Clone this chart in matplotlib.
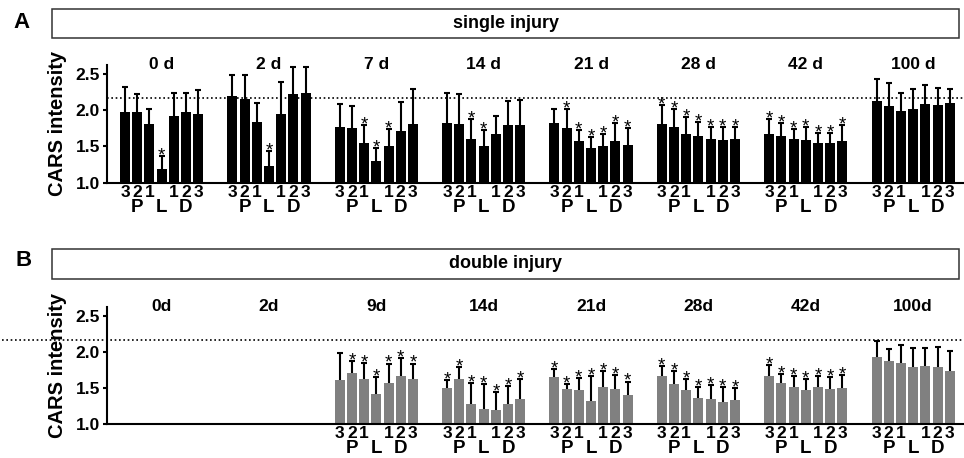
import numpy as np
import matplotlib.pyplot as plt
from matplotlib.patches import Rectangle

plt.rcParams['font.family'] = ['Liberation Sans', 'DejaVu Sans']

# ---- data ----
single_days = ['0 d', '2 d', '7 d', '14 d', '21 d', '28 d', '42 d', '100 d']
double_days = ['0d', '2d', '9d', '14d', '21d', '28d', '42d', '100d']

# bar order in every group: P3 P2 P1 L D1 D2 D3
bar_numbers = ['3', '2', '1', '', '1', '2', '3']
region_names = ['P', 'L', 'D']
region_bars = [1, 3, 5]

single_mean = [
    [1.97, 1.97, 1.80, 1.18, 1.91, 1.97, 1.94],
    [2.19, 2.15, 1.83, 1.23, 1.94, 2.22, 2.23],
    [1.76, 1.75, 1.54, 1.30, 1.51, 1.71, 1.80],
    [1.82, 1.81, 1.60, 1.51, 1.67, 1.79, 1.79],
    [1.82, 1.75, 1.57, 1.48, 1.50, 1.57, 1.52],
    [1.80, 1.77, 1.67, 1.64, 1.60, 1.58, 1.60],
    [1.67, 1.64, 1.60, 1.59, 1.55, 1.54, 1.57],
    [2.12, 2.06, 1.99, 2.02, 2.08, 2.07, 2.09],
]
single_sd = [
    [0.34, 0.25, 0.22, 0.19, 0.33, 0.27, 0.33],
    [0.29, 0.33, 0.27, 0.20, 0.45, 0.37, 0.36],
    [0.32, 0.31, 0.25, 0.18, 0.23, 0.40, 0.49],
    [0.41, 0.41, 0.27, 0.22, 0.24, 0.33, 0.35],
    [0.20, 0.26, 0.15, 0.15, 0.17, 0.25, 0.23],
    [0.27, 0.24, 0.23, 0.20, 0.17, 0.19, 0.17],
    [0.21, 0.18, 0.14, 0.17, 0.13, 0.14, 0.22],
    [0.31, 0.31, 0.25, 0.27, 0.27, 0.23, 0.20],
]
single_sig = [
    [0, 0, 0, 1, 0, 0, 0],
    [0, 0, 0, 1, 0, 0, 0],
    [0, 0, 1, 1, 1, 0, 0],
    [0, 0, 1, 1, 0, 0, 0],
    [0, 1, 1, 1, 1, 1, 1],
    [1, 1, 1, 1, 1, 1, 1],
    [1, 1, 1, 1, 1, 1, 1],
    [0, 0, 0, 0, 0, 0, 0],
]

# no measurements at 0d and 2d after the double injury
double_mean = [
    None,
    None,
    [1.61, 1.71, 1.62, 1.42, 1.57, 1.67, 1.62],
    [1.50, 1.62, 1.28, 1.21, 1.19, 1.28, 1.35],
    [1.65, 1.48, 1.47, 1.32, 1.52, 1.48, 1.40],
    [1.66, 1.56, 1.47, 1.36, 1.35, 1.31, 1.34],
    [1.66, 1.57, 1.51, 1.47, 1.51, 1.49, 1.50],
    [1.93, 1.88, 1.85, 1.79, 1.80, 1.79, 1.73],
]
double_sd = [
    None,
    None,
    [0.37, 0.16, 0.23, 0.23, 0.27, 0.25, 0.22],
    [0.11, 0.17, 0.29, 0.35, 0.25, 0.25, 0.28],
    [0.12, 0.07, 0.17, 0.34, 0.21, 0.20, 0.19],
    [0.15, 0.18, 0.15, 0.15, 0.19, 0.20, 0.16],
    [0.16, 0.13, 0.16, 0.15, 0.15, 0.16, 0.18],
    [0.22, 0.16, 0.24, 0.27, 0.26, 0.28, 0.29],
]
double_sig = [
    None,
    None,
    [0, 1, 1, 1, 1, 1, 1],
    [1, 1, 1, 1, 1, 1, 1],
    [1, 1, 1, 1, 1, 1, 1],
    [1, 1, 1, 1, 1, 1, 1],
    [1, 1, 1, 1, 1, 1, 1],
    [0, 0, 0, 0, 0, 0, 0],
]

control_level = 2.16

GROUP_STEP = 8.8
BAR_W = 0.82


def draw_panel(ax, days, means, sds, sigs, color, dots_from=0.0):
    for g, day in enumerate(days):
        x = g * GROUP_STEP + np.arange(7)
        ax.annotate(day, (x.mean(), 1.0), xycoords=('data', 'axes fraction'),
                    xytext=(0, -3), textcoords='offset points',
                    ha='center', va='baseline', fontsize=12.5,
                    fontweight='bold', annotation_clip=False)
        if means[g] is None:
            continue
        m = np.array(means[g])
        top = m + np.array(sds[g])
        ax.bar(x, m - 1.0, bottom=1.0, width=BAR_W, color=color,
               edgecolor='none', zorder=2)
        ax.vlines(x, m, top, color='black', lw=1.5, zorder=3)
        ax.plot(x, top, ls='none', marker='_', ms=5, mew=1.5,
                color='black', zorder=3)
        for xi, ti, s in zip(x, top, sigs[g]):
            if s:
                ax.annotate('*', (xi, ti), xytext=(0, -3.2),
                            textcoords='offset points', ha='center',
                            va='baseline', fontsize=13.5, zorder=4)
        for xi, lbl in zip(x, bar_numbers):
            ax.annotate(lbl, (xi, 0), xycoords=('data', 'axes fraction'),
                        xytext=(0, -10.2), textcoords='offset points',
                        ha='center', va='baseline', fontsize=12.5,
                        fontweight='bold', annotation_clip=False)
        for i, name in zip(region_bars, region_names):
            ax.annotate(name, (x[i], 0), xycoords=('data', 'axes fraction'),
                        xytext=(0, -20.9), textcoords='offset points',
                        ha='center', va='baseline', fontsize=13.5,
                        fontweight='bold', annotation_clip=False)

    ax.plot([dots_from, 1.0], [control_level, control_level],
            transform=ax.get_yaxis_transform(), color='black',
            ls=(0, (1, 1.6)), lw=1.2, clip_on=False, zorder=1)

    ax.set_xlim(-1.475, 68.77)
    ax.set_ylim(1.0, 2.62)
    ax.set_yticks([1.0, 1.5, 2.0, 2.5])
    ax.set_yticklabels(['1.0', '1.5', '2.0', '2.5'])
    ax.set_xticks([])
    for side in ['top', 'right']:
        ax.spines[side].set_visible(False)
    for side in ['left', 'bottom']:
        ax.spines[side].set_linewidth(1.5)
    ax.tick_params(axis='y', length=3, width=1.5, pad=2, labelsize=12.5)
    for t in ax.get_yticklabels():
        t.set_fontweight('bold')
    ax.set_ylabel('CARS intensity', fontsize=14.5, fontweight='bold')
    ax.yaxis.set_label_coords(-0.0467, 0.5)


fig = plt.figure(figsize=(9.64, 4.58), dpi=100)

ax_a = fig.add_axes([0.1110, 0.6015, 0.8890, 0.2566])
ax_b = fig.add_axes([0.1110, 0.0742, 0.8890, 0.2548])

draw_panel(ax_a, single_days, single_mean, single_sd, single_sig, 'black')
draw_panel(ax_b, double_days, double_mean, double_sd, double_sig, '#808080',
           dots_from=-0.1225)

# header boxes
for y0, y1, title in [(0.9177, 0.9803, 'single injury'),
                      (0.3915, 0.4557, 'double injury')]:
    fig.patches.append(Rectangle((0.0539, y0), 0.9409, y1 - y0,
                                 transform=fig.transFigure, fill=False,
                                 edgecolor='#333333', lw=1.1))
    fig.text(0.5244, (y0 + y1) / 2, title, ha='center', va='center',
             fontsize=13, fontweight='bold')

fig.text(22 / 964, 1 - 22.5 / 458, 'A', ha='center', va='center',
         fontsize=16, fontweight='bold')
fig.text(24 / 964, 1 - 260 / 458, 'B', ha='center', va='center',
         fontsize=16, fontweight='bold')

fig.savefig('out.png', dpi=100)
